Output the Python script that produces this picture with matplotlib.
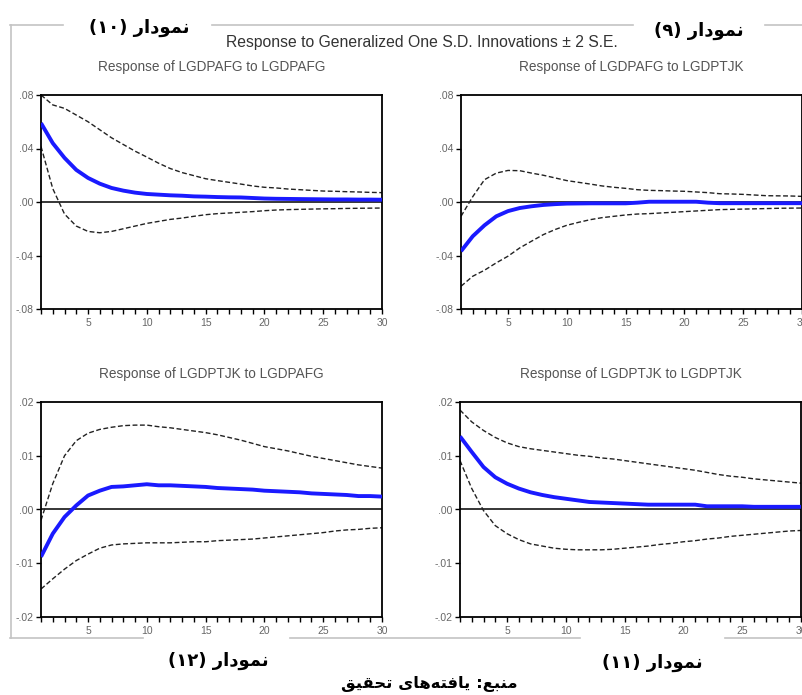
import numpy as np
import matplotlib
matplotlib.use("Agg")
import matplotlib.pyplot as plt
from matplotlib.lines import Line2D
from matplotlib.ticker import FuncFormatter, MultipleLocator

# periods 1..30
periods = list(range(1, 31))

# Response of LGDPAFG to LGDPAFG
afg_afg = [0.0590, 0.0440, 0.0330, 0.0240, 0.0180, 0.0137, 0.0105, 0.0085, 0.0070, 0.0060,
           0.0055, 0.0050, 0.0047, 0.0042, 0.0040, 0.0037, 0.0035, 0.0034, 0.0030, 0.0026,
           0.0024, 0.0023, 0.0022, 0.0021, 0.0020, 0.0019, 0.0019, 0.0018, 0.0018, 0.0017]
afg_afg_up = [0.0800, 0.0726, 0.0700, 0.0650, 0.0600, 0.0540, 0.0480, 0.0430, 0.0380, 0.0336,
              0.0290, 0.0250, 0.0220, 0.0197, 0.0174, 0.0160, 0.0147, 0.0134, 0.0120, 0.0110,
              0.0105, 0.0097, 0.0092, 0.0087, 0.0082, 0.0080, 0.0077, 0.0075, 0.0072, 0.0070]
afg_afg_lo = [0.0415, 0.0100, -0.0090, -0.0180, -0.0220, -0.0230, -0.0220, -0.0200, -0.0180, -0.0160,
              -0.0145, -0.0130, -0.0120, -0.0107, -0.0095, -0.0087, -0.0082, -0.0077, -0.0072, -0.0065,
              -0.0060, -0.0057, -0.0055, -0.0053, -0.0051, -0.0050, -0.0048, -0.0047, -0.0046, -0.0045]

# Response of LGDPAFG to LGDPTJK
afg_tjk = [-0.0368, -0.0256, -0.0174, -0.0107, -0.0068, -0.0045, -0.0032, -0.0022, -0.0016, -0.0012,
           -0.0011, -0.0010, -0.0010, -0.0010, -0.0010, -0.0005, 0.0002, 0.0002, 0.0002, 0.0002,
           0.0002, -0.0005, -0.0009, -0.0009, -0.0009, -0.0009, -0.0009, -0.0009, -0.0009, -0.0009]
afg_tjk_up = [-0.0107, 0.0040, 0.0167, 0.0216, 0.0236, 0.0234, 0.0216, 0.0200, 0.0180, 0.0160,
              0.0147, 0.0134, 0.0120, 0.0110, 0.0102, 0.0092, 0.0087, 0.0085, 0.0082, 0.0080,
              0.0075, 0.0070, 0.0062, 0.0060, 0.0057, 0.0052, 0.0047, 0.0046, 0.0045, 0.0042]
afg_tjk_lo = [-0.0630, -0.0555, -0.0510, -0.0455, -0.0405, -0.0343, -0.0293, -0.0244, -0.0206, -0.0174,
              -0.0152, -0.0132, -0.0117, -0.0107, -0.0097, -0.0090, -0.0087, -0.0082, -0.0077, -0.0072,
              -0.0067, -0.0062, -0.0057, -0.0055, -0.0053, -0.0051, -0.0049, -0.0047, -0.0046, -0.0045]

# Response of LGDPTJK to LGDPAFG
tjk_afg = [-0.0088, -0.0045, -0.0014, 0.00075, 0.0026, 0.0035, 0.0042, 0.0043, 0.0045, 0.0047,
           0.0045, 0.0045, 0.0044, 0.0043, 0.0042, 0.0040, 0.0039, 0.0038, 0.0037, 0.0035,
           0.0034, 0.0033, 0.0032, 0.0030, 0.0029, 0.0028, 0.0027, 0.0025, 0.0025, 0.0024]
tjk_afg_up = [-0.0020, 0.0048, 0.0100, 0.0128, 0.0142, 0.0149, 0.0153, 0.0156, 0.0157, 0.0157,
              0.0154, 0.0152, 0.0149, 0.0146, 0.0143, 0.0139, 0.0134, 0.0129, 0.0123, 0.0117,
              0.0113, 0.0109, 0.0104, 0.0099, 0.0095, 0.0091, 0.0087, 0.0083, 0.0080, 0.0077]
tjk_afg_lo = [-0.0148, -0.0129, -0.0111, -0.0095, -0.0083, -0.0072, -0.0066, -0.0064, -0.0063, -0.0062,
              -0.0062, -0.0062, -0.0061, -0.0060, -0.0060, -0.0058, -0.0057, -0.0056, -0.0055, -0.0053,
              -0.0051, -0.0049, -0.0047, -0.0045, -0.0043, -0.0040, -0.0038, -0.0037, -0.0035, -0.0034]

# Response of LGDPTJK to LGDPTJK
tjk_tjk = [0.0136, 0.0107, 0.0079, 0.0060, 0.0048, 0.0039, 0.0032, 0.0027, 0.0023, 0.0020,
           0.0017, 0.0014, 0.0013, 0.0012, 0.0011, 0.0010, 0.0009, 0.0009, 0.0009, 0.0009,
           0.0009, 0.0006, 0.0006, 0.0006, 0.0006, 0.0005, 0.0005, 0.0005, 0.0005, 0.0005]
tjk_tjk_up = [0.0185, 0.0163, 0.0147, 0.0134, 0.0124, 0.0117, 0.0113, 0.0110, 0.0107, 0.0104,
              0.0101, 0.0099, 0.0096, 0.0094, 0.0091, 0.0088, 0.0085, 0.0082, 0.0079, 0.0076,
              0.0073, 0.0069, 0.0065, 0.0062, 0.0060, 0.0057, 0.0055, 0.0053, 0.0051, 0.0049]
tjk_tjk_lo = [0.0091, 0.0039, -0.0002, -0.0030, -0.0045, -0.0056, -0.0064, -0.0068, -0.0072, -0.0074,
              -0.0075, -0.0075, -0.0075, -0.0074, -0.0072, -0.0070, -0.0068, -0.0065, -0.0063, -0.0060,
              -0.0058, -0.0055, -0.0053, -0.0050, -0.0048, -0.0046, -0.0044, -0.0042, -0.0040, -0.0039]

titles = ["Response of LGDPAFG to LGDPAFG", "Response of LGDPAFG to LGDPTJK",
          "Response of LGDPTJK to LGDPAFG", "Response of LGDPTJK to LGDPTJK"]

# Persian labels written in presentation forms, visual order
word = "\uFEAD\uFE8D\uFEA9\uFEEE\uFEE4\uFEE7"   # نمودار
lbl_10 = "(\u06F1\u06F0) " + word
lbl_9 = "(\u06F9) " + word
lbl_12 = "(\u06F1\u06F2) " + word
lbl_11 = "(\u06F1\u06F1) " + word
source = ("\uFED6\uFEF4\uFED8\uFEA4\uFE97 "
          "\uFEEF\uFE8E\uFEEB\uFEEA\uFE98\uFED3\uFE8E\uFEF3 "
          ":\uFECA\uFE92\uFEE8\uFEE3")   # منبع: یافته‌های تحقیق

W, H = 802, 695
fig = plt.figure(figsize=(W / 100, H / 100), dpi=100)
plt.rcParams['font.family'] = ['Liberation Sans', 'DejaVu Sans']


def box(x0, y0, x1, y1):
    return [x0 / W, 1 - y1 / H, (x1 - x0) / W, (y1 - y0) / H]


def fmt(v, pos):
    s = f"{v:.2f}".replace("0.", ".")
    return s


panels = [
    (box(41, 95, 382, 309), afg_afg, afg_afg_up, afg_afg_lo, 0.08, 0.04),
    (box(461, 95, 802, 309), afg_tjk, afg_tjk_up, afg_tjk_lo, 0.08, 0.04),
    (box(41, 402, 382, 617), tjk_afg, tjk_afg_up, tjk_afg_lo, 0.02, 0.01),
    (box(460, 402, 801, 617), tjk_tjk, tjk_tjk_up, tjk_tjk_lo, 0.02, 0.01),
]

for i, (rect, mid, up, lo, lim, step) in enumerate(panels):
    ax = fig.add_axes(rect)
    ax.axhline(0, color='black', lw=1.1, zorder=1)
    ax.plot(periods, up, color='#222222', lw=1.0, ls=(0, (3.5, 1.8)), zorder=2)
    ax.plot(periods, lo, color='#222222', lw=1.0, ls=(0, (3.5, 1.8)), zorder=2)
    ax.plot(periods, mid, color='#1a1aff', lw=2.8, zorder=3, solid_capstyle='butt')
    ax.set_xlim(1, 30)
    ax.set_ylim(-lim, lim)
    ax.set_yticks(np.arange(-lim, lim + step / 2, step))
    ax.yaxis.set_major_formatter(FuncFormatter(fmt))
    ax.set_xticks([5, 10, 15, 20, 25, 30])
    ax.xaxis.set_minor_locator(MultipleLocator(1))
    ax.tick_params(axis='both', which='both', direction='out', length=3.5, width=1,
                   color='black', labelsize=7.5, labelcolor='#666666', pad=2)
    ax.tick_params(axis='x', which='major', pad=3)
    for sp in ax.spines.values():
        sp.set_linewidth(1.3)
    ax.set_title(titles[i], fontsize=9.8, color='#555555', pad=17)

fig.text(422 / W, 1 - 42 / H, "Response to Generalized One S.D. Innovations \u00b1 2 S.E.",
         ha='center', va='center', fontsize=11.3, color='#333333')

# light frame around the EViews graph, broken by the labels
gray = '#c4c4c4'
segs = [((10, 25), (63, 25)), ((212, 25), (633, 25)), ((765, 25), (802, 25)),
        ((11, 25), (11, 638)),
        ((10, 638), (143, 638)), ((290, 638), (580, 638)), ((725, 638), (802, 638))]
for (xa, ya), (xb, yb) in segs:
    fig.add_artist(Line2D([xa / W, xb / W], [1 - ya / H, 1 - yb / H],
                          transform=fig.transFigure, color=gray, lw=1.2))

fa = dict(family=['DejaVu Sans'], fontweight='bold', fontsize=13, color='black',
          ha='center', va='center')
fig.text(139 / W, 1 - 28 / H, lbl_10, **fa)
fig.text(699 / W, 1 - 31 / H, lbl_9, **fa)
fig.text(218 / W, 1 - 661 / H, lbl_12, **fa)
fig.text(652 / W, 1 - 663 / H, lbl_11, **fa)
fa['fontsize'] = 11.8
fig.text(429 / W, 1 - 684 / H, source, **fa)

fig.savefig("out.png", dpi=100, facecolor='white')
